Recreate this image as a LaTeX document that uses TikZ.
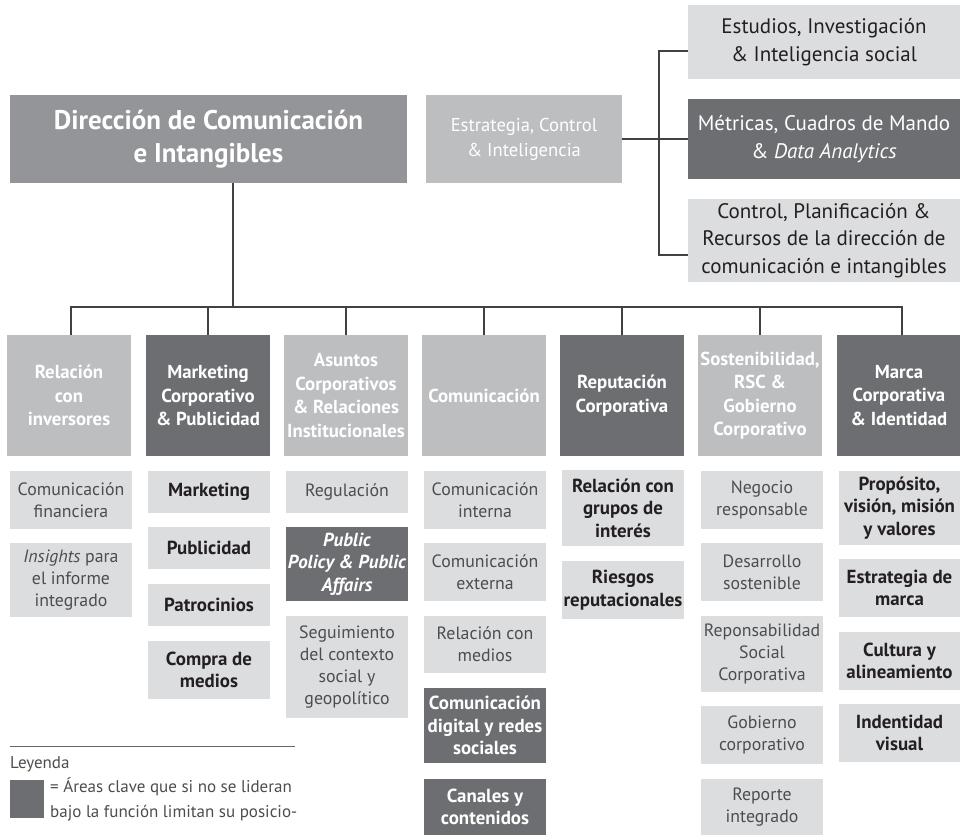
\documentclass[tikz,border=0pt]{standalone}
\usepackage{fontspec}
\setmainfont{PT Sans}
\definecolor{cMain}{HTML}{939598}
\definecolor{cMid}{HTML}{BCBEC0}
\definecolor{cLight}{HTML}{DCDDDF}
\definecolor{cDark}{HTML}{6D6E71}
\definecolor{cLine}{HTML}{414042}
\definecolor{cTxt}{HTML}{231F20}
\definecolor{cThin}{HTML}{4D4D4F}
\tikzset{
  box/.style={inner sep=0pt, align=center, anchor=center},
  hdrL/.style={box, fill=cMid, text=white, font=\fontsize{18.8}{23.5}\selectfont\bfseries, minimum width=124pt, minimum height=121pt},
  hdrD/.style={hdrL, fill=cDark},
  subL/.style={box, fill=cLight, text=cThin, font=\fontsize{17.8}{22}\selectfont, minimum width=122pt},
  subB/.style={box, fill=cLight, text=cTxt, font=\fontsize{18.9}{22.5}\selectfont\bfseries, minimum width=122pt},
  subD/.style={box, fill=cDark, text=white, font=\fontsize{18.9}{22.5}\selectfont\bfseries, minimum width=122pt},
  topL/.style={box, fill=cLight, text=cTxt, font=\fontsize{21}{27.5}\selectfont, minimum width=272pt},
  conn/.style={draw=cLine, line width=1.1pt},
  legtxt/.style={inner sep=0pt, anchor=base west, text=cThin, font=\fontsize{17}{25}\selectfont}
}
\begin{document}
\begin{tikzpicture}[x=1pt,y=-1pt]
\useasboundingbox (0,0) rectangle (960,835);
% top row
\node[box, fill=cMain, text=white, font=\fontsize{27}{33}\selectfont\bfseries, minimum width=397pt, minimum height=88pt] (main) at (208.5,139) {Dirección de Comunicación\\e Intangibles};
\node[box, fill=cMid, text=white, font=\fontsize{18.6}{25}\selectfont, minimum width=196pt, minimum height=88pt] (strat) at (524,139) {Estrategia, Control\\\& Inteligencia};
\node[topL, minimum height=74pt] (estud) at (824,42) {Estudios, Investigación\\\& Inteligencia social};
\node[topL, fill=cDark, text=white, minimum height=80pt] (metr) at (824,139) {Métricas, Cuadros de Mando\\\& \textit{Data Analytics}};
\node[topL, minimum height=83pt] (ctrl) at (824,240.5) {Control, Planificación \&\\Recursos de la dirección de\\comunicación e intangibles};
\coordinate (jt) at (659,51);
\coordinate (jb) at (659,255);
\draw[conn] (strat.east) -- (metr.west);
\draw[conn] (estud.west |- jt) -- (jt) -- (jb) -- (ctrl.west |- jb);
% headers
\node[hdrL] (h1) at (69,395.5) {Relación\\con\\inversores};
\node[hdrD] (h2) at (208,395.5) {Marketing\\Corporativo\\\& Publicidad};
\node[hdrL] (h3) at (346,395.5) {Asuntos\\Corporativos\\\& Relaciones\\Institucionales};
\node[hdrL] (h4) at (484,395.5) {Comunicación};
\node[hdrD] (h5) at (622,395.5) {Reputación\\Corporativa};
\node[hdrL] (h6) at (760,395.5) {Sostenibilidad,\\RSC \&\\Gobierno\\Corporativo};
\node[hdrD] (h7) at (899,395.5) {Marca\\Corporativa\\\& Identidad};
\coordinate (busc) at (233,307);
\coordinate (busl) at (71,307);
\coordinate (busr) at (902,307);
\draw[conn] (main.south -| busc) -- (busc);
\draw[conn] (h1.north -| busl) -- (busl) -- (busr) -- (h7.north -| busr);
\foreach \h in {h2,h3,h4,h5,h6}{\draw[conn] (\h.north) -- (\h.north |- busc);}
% column 1
\node[subL, minimum height=58pt] (c1a) at (71,500) {Comunicación\\financiera};
\node[subL, minimum height=74pt] (c1b) at (71,580) {\textit{Insights} para\\el informe\\integrado};
% column 2
\node[subB, minimum height=42pt] (c2a) at (209,492) {Marketing};
\node[subB, minimum height=42pt] (c2b) at (209,548) {Publicidad};
\node[subB, minimum height=42pt] (c2c) at (209,605) {Patrocinios};
\node[subB, minimum height=58pt] (c2d) at (209,670) {Compra de\\medios};
% column 3
\node[subL, minimum height=42pt] (c3a) at (347,492) {Regulación};
\node[subD, minimum height=74pt, font=\fontsize{18.9}{22.5}\selectfont\bfseries\itshape] (c3b) at (347,564) {Public\\Policy \& Public\\Affairs};
\node[subL, minimum height=102pt] (c3c) at (347,667) {Seguimiento\\del contexto\\social y\\geopolítico};
% column 4
\node[subL, minimum height=58pt] (c4a) at (485,500) {Comunicación\\interna};
\node[subL, minimum height=58pt] (c4b) at (485,572) {Comunicación\\externa};
\node[subL, minimum height=57pt] (c4c) at (485,644.5) {Relación con\\medios};
\node[subD, minimum height=75pt] (c4d) at (485,725.5) {Comunicación\\digital y redes\\sociales};
\node[subD, minimum height=56pt] (c4e) at (485,807) {Canales y\\contenidos};
% column 5
\node[subB, minimum height=76pt] (c5a) at (623,508) {Relación con\\grupos de\\interés};
\node[subB, minimum height=58pt] (c5b) at (623,590) {Riesgos\\reputacionales};
% column 6
\node[subL, minimum height=58pt] (c6a) at (762,500) {Negocio\\responsable};
\node[subL, minimum height=58pt] (c6b) at (762,572) {Desarrollo\\sostenible};
\node[subL, minimum height=76pt] (c6c) at (762,654) {Reponsabilidad\\Social\\Corporativa};
\node[subL, minimum height=58pt] (c6d) at (762,735) {Gobierno\\corporativo};
\node[subL, minimum height=56pt] (c6e) at (762,807) {Reporte\\integrado};
% column 7
\node[subB, minimum width=121pt, minimum height=74pt] (c7a) at (899.5,508) {Propósito,\\visión, misión\\y valores};
\node[subB, minimum width=121pt, minimum height=58pt] (c7b) at (899.5,588) {Estrategia de\\marca};
\node[subB, minimum width=121pt, minimum height=58pt] (c7c) at (899.5,661) {Cultura y\\alineamiento};
\node[subB, minimum width=121pt, minimum height=58pt] (c7d) at (899.5,733) {Indentidad\\visual};
% legend
\coordinate (lgl) at (10,746);
\coordinate (lgr) at (295,746);
\draw[draw=cLine!80, line width=1pt] (lgl) -- (lgr);
\node[legtxt] (leg) at (10,768) {Leyenda};
\node[box, fill=cDark, minimum width=34pt, minimum height=38pt] (legsq) at (27,799) {};
\node[legtxt] (leg1) at (50,792) {= Áreas clave que si no se lideran};
\node[legtxt] (leg2) at (50,817) {bajo la función limitan su posicio-};
\end{tikzpicture}
\end{document}
